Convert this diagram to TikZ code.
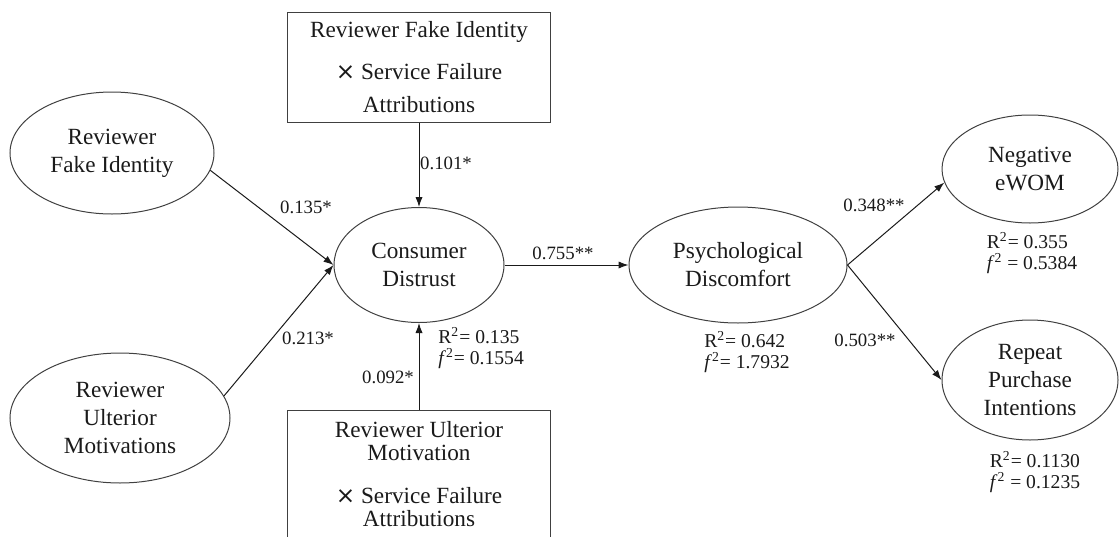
\documentclass[tikz,border=0pt]{standalone}
\usepackage{fontspec}
\setmainfont{Liberation Serif}
\newfontfamily\crossfont{DejaVu Sans}
\usetikzlibrary{arrows.meta,positioning,shapes.geometric}
\definecolor{ink}{HTML}{1A1A1A}
\definecolor{rim}{HTML}{404040}

\tikzset{
  construct/.style={ellipse,draw=rim,line width=0.5pt,align=center,inner sep=0pt,
                    font=\fontsize{11.6}{14}\selectfont,text=ink},
  termbox/.style={rectangle,draw=rim,line width=0.5pt,align=center,inner sep=0pt,
                  minimum width=131.5pt,font=\fontsize{11.6}{11.5}\selectfont,text=ink},
  coef/.style={font=\fontsize{9.4}{11}\selectfont,text=ink,inner sep=1pt},
  fitstat/.style={font=\fontsize{9.8}{10.5}\selectfont,text=ink,align=left,inner sep=1pt},
  link/.style={-{Latex[length=5pt,width=3.6pt]},line width=0.5pt,ink},
}

\begin{document}
\begin{tikzpicture}[x=0.5pt,y=-0.5pt]
  \useasboundingbox (0,0) rectangle (1120,536);
  % constructs
  \node[construct,minimum width=102pt,minimum height=61pt] (rfi) at (112,153) {Reviewer\\Fake Identity};
  \node[construct,minimum width=110pt,minimum height=65pt] (rum) at (120,418) {Reviewer\\Ulterior\\Motivations};
  \node[construct,minimum width=85pt,minimum height=57.5pt] (cd) at (419,265) {Consumer\\Distrust};
  \node[construct,minimum width=109pt,minimum height=58pt] (pd) at (738,265) {Psychological\\Discomfort};
  \node[construct,minimum width=88pt,minimum height=54pt] (ne) at (1030,169) {Negative\\eWOM};
  \node[construct,minimum width=88pt,minimum height=60pt] (rp) at (1030,380) {Repeat\\Purchase\\Intentions};
  % moderators
  \node[termbox,minimum height=55pt] (mfi) at (419,67)
       {Reviewer Fake Identity\\[9.5pt]{\crossfont ×} Service Failure\\[5pt]Attributions};
  \node[termbox,minimum height=64pt] (mum) at (419,474)
       {Reviewer Ulterior\\Motivation\\[10pt]{\crossfont ×} Service Failure\\Attributions};
  % paths
  \draw[link] (rfi.-10) -- (cd.west);
  \draw[link] (rum.12) -- (cd.west);
  \draw[link] (mfi.south) -- (cd.north);
  \draw[link] (mum.north) -- (cd.south);
  \draw[link] (cd.east) -- (pd.west);
  \draw[link] (pd.east) -- (ne.189);
  \draw[link] (pd.east) -- (rp.west);
  % path coefficients
  \node[coef] (b1) at (306,207) {0.135*};
  \node[coef] (b2) at (308,338) {0.213*};
  \node[coef] (b3) at (446,163) {0.101*};
  \node[coef] (b4) at (388,377) {0.092*};
  \node[coef] (b5) at (563,253) {0.755**};
  \node[coef] (b6) at (874,205) {0.348**};
  \node[coef] (b7) at (865,340) {0.503**};
  % fit statistics
  \node[fitstat,anchor=west] (scd) at (436,348) {R\textsuperscript{2}= 0.135\\\textit{f}\textsuperscript{2}= 0.1554};
  \node[fitstat] (spd) at (747,352) {R\textsuperscript{2}= 0.642\\\textit{f}\textsuperscript{2}= 1.7932};
  \node[fitstat] (sne) at (1032,253) {R\textsuperscript{2}= 0.355\\\textit{f}\textsuperscript{2} = 0.5384};
  \node[fitstat] (srp) at (1035,472) {R\textsuperscript{2}= 0.1130\\\textit{f}\textsuperscript{2} = 0.1235};
\end{tikzpicture}
\end{document}
